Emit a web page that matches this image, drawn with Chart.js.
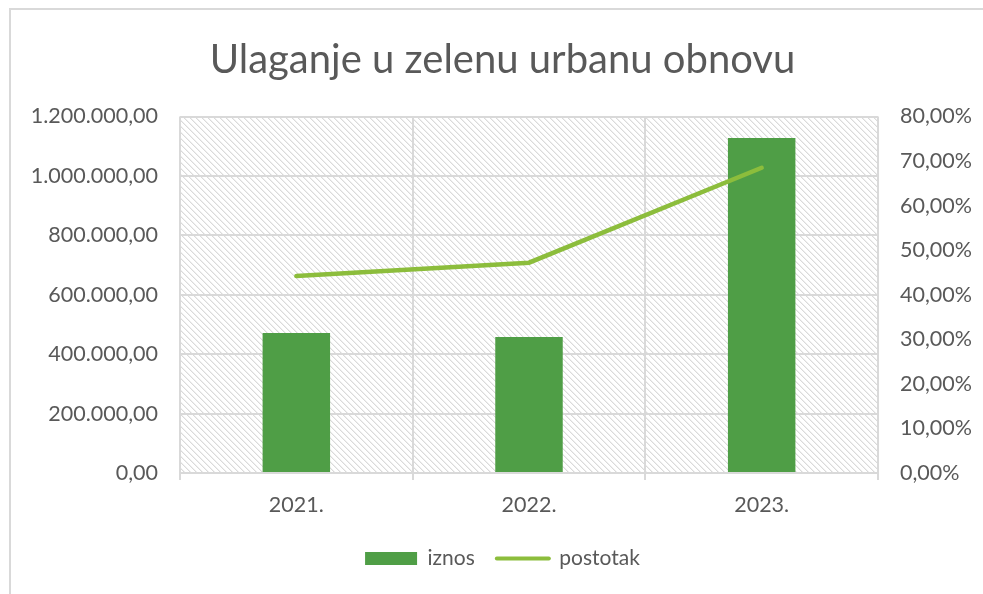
<!DOCTYPE html>
<html>
<head>
<meta charset="utf-8">
<script src="https://cdn.jsdelivr.net/npm/chart.js@4/dist/chart.umd.min.js"></script>
<style>
  html, body { margin: 0; padding: 0; background: #fff; overflow: hidden; }
  #wrap { position: relative; width: 983px; height: 594px; }
  #frame {
    position: absolute; left: 9px; top: 8px; width: 1000px; height: 620px;
    border-top: 2px solid #d9d9d9; border-left: 2px solid #d9d9d9;
  }
  canvas { position: absolute; left: 0; top: 0; }
</style>
</head>
<body>
<div id="wrap">
  <div id="frame"></div>
  <canvas id="chart" width="983" height="594"></canvas>
</div>
<script>
// Ulaganje u zelenu urbanu obnovu – iznos (stupci) i postotak (linija)
const GODINE   = ["2021.", "2022.", "2023."];
const IZNOS    = [471500, 458000, 1128000];
const POSTOTAK = [44.2, 47.2, 68.5];

const IZNOS_MAX  = 1200000;
const IZNOS_STEP = 200000;
const POST_MAX   = 80;
const POST_STEP  = 10;

const TXT   = "#595959";
const GRID  = "#d9d9d9";
const BAR   = "#4f9e46";
const LINE  = "#8cbd3c";
const FONT  = "Lato, 'Open Sans', sans-serif";
const PAD_L = 22;

// 1.200.000,00
function fmtIznos(v) {
  const [int, dec] = Number(v).toFixed(2).split(".");
  return int.replace(/\B(?=(\d{3})+(?!\d))/g, ".") + "," + dec;
}
function fmtPost(v) {
  return Number(v).toFixed(2).replace(".", ",") + "%";
}

// diagonal hatch for the plot background
function hatchPattern(ctx) {
  const n = 6;
  const c = document.createElement("canvas");
  c.width = n; c.height = n;
  const p = c.getContext("2d");
  p.fillStyle = "#ffffff";
  p.fillRect(0, 0, n, n);
  for (let i = 0; i < n; i++) {
    p.fillStyle = "#dadada";
    p.fillRect(i, i, 1, 1);
    p.fillStyle = "#efefef";
    p.fillRect((i + 1) % n, i, 1, 1);
  }
  return ctx.createPattern(c, "repeat");
}

const plotBg = {
  id: "plotBg",
  beforeDraw(chart) {
    const { ctx, chartArea: a } = chart;
    ctx.save();
    ctx.fillStyle = hatchPattern(ctx);
    ctx.fillRect(a.left, a.top, a.right - a.left, a.bottom - a.top);
    ctx.restore();
  }
};

const ctx = document.getElementById("chart").getContext("2d");
new Chart(ctx, {
  data: {
    labels: GODINE,
    datasets: [
      {
        type: "bar",
        label: "iznos",
        data: IZNOS,
        yAxisID: "y",
        backgroundColor: BAR,
        borderWidth: 0,
        categoryPercentage: 1,
        barPercentage: 0.29,
        order: 2
      },
      {
        type: "line",
        label: "postotak",
        data: POSTOTAK,
        yAxisID: "y1",
        borderColor: LINE,
        backgroundColor: LINE,
        borderWidth: 4.5,
        borderCapStyle: "round",
        pointRadius: 0,
        tension: 0,
        order: 1
      }
    ]
  },
  options: {
    responsive: false,
    animation: false,
    layout: { padding: { left: PAD_L, right: 0, top: 0, bottom: 15 } },
    plugins: {
      title: {
        display: true,
        text: "Ulaganje u zelenu urbanu obnovu",
        color: TXT,
        font: { family: FONT, size: 40, weight: "normal", lineHeight: 1.2 },
        padding: { top: 36, bottom: 32.5 }
      },
      legend: {
        position: "bottom",
        labels: {
          color: TXT,
          font: { family: FONT, size: 21 },
          usePointStyle: true,
          pointStyleWidth: 52,
          boxHeight: 13,
          padding: 22,
          generateLabels(chart) {
            return chart.data.datasets.map((ds, i) => ({
              text: ds.label,
              fillStyle: ds.type === "bar" ? BAR : LINE,
              strokeStyle: ds.type === "bar" ? BAR : LINE,
              lineWidth: ds.type === "bar" ? 0 : 4,
              lineCap: "round",
              pointStyle: ds.type === "bar" ? "rect" : "line",
              fontColor: TXT,
              datasetIndex: i,
              hidden: false
            }));
          }
        }
      },
      tooltip: { enabled: false }
    },
    scales: {
      x: {
        offset: true,
        grid: { color: GRID, lineWidth: 2, offset: true, tickLength: 7, drawTicks: true },
        border: { color: GRID, width: 2 },
        ticks: { color: TXT, font: { family: FONT, size: 21.5 }, padding: 12 },
        afterFit(s) { s.height = 53; }
      },
      y: {
        position: "left",
        min: 0, max: IZNOS_MAX,
        ticks: {
          stepSize: IZNOS_STEP,
          color: TXT,
          font: { family: FONT, size: 21.5 },
          padding: 22,
          callback: v => fmtIznos(v)
        },
        grid: { color: GRID, lineWidth: 2, drawTicks: false },
        border: { display: false },
        afterFit(s) { s.width = 180 - PAD_L; }
      },
      y1: {
        position: "right",
        min: 0, max: POST_MAX,
        ticks: {
          stepSize: POST_STEP,
          color: TXT,
          font: { family: FONT, size: 21.5 },
          padding: 22,
          callback: v => fmtPost(v)
        },
        grid: { display: false, drawTicks: false },
        border: { display: false },
        afterFit(s) { s.width = 105; }
      }
    }
  },
  plugins: [plotBg]
});
</script>
</body>
</html>
